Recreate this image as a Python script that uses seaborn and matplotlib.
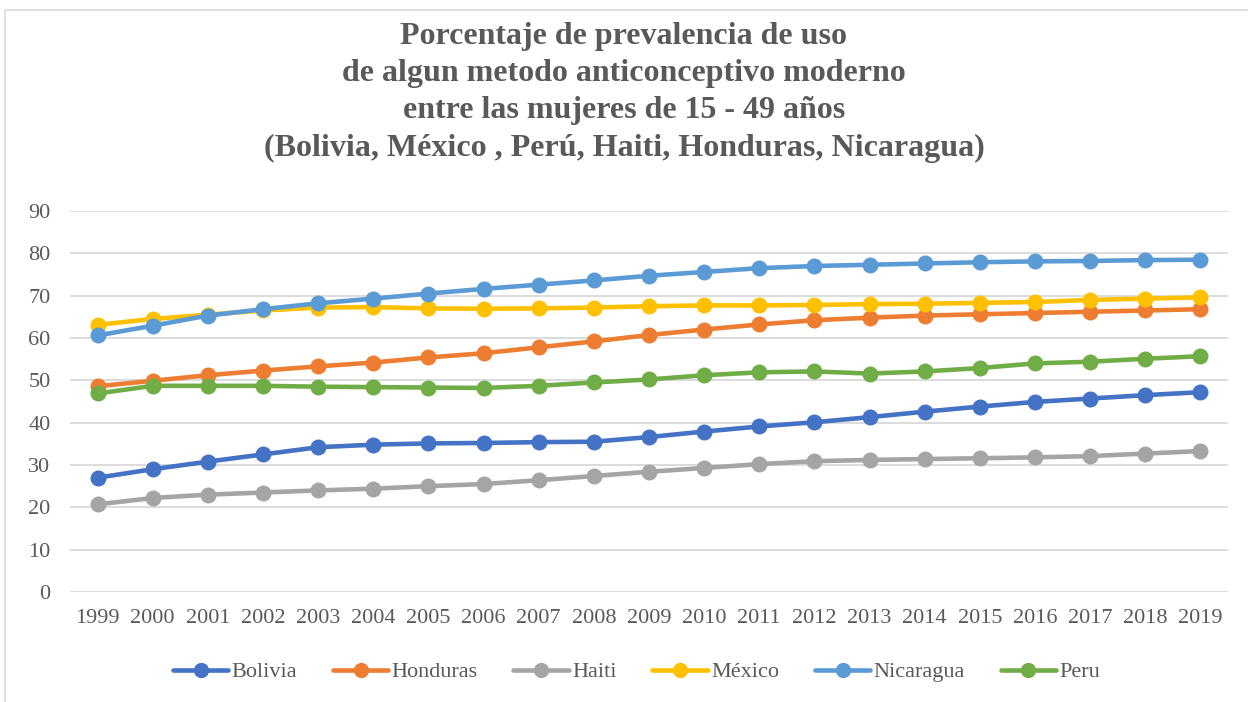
import numpy as np
import pandas as pd
import matplotlib
matplotlib.use("Agg")
import matplotlib.pyplot as plt
from matplotlib.lines import Line2D
from matplotlib.patches import Rectangle
import seaborn as sns

years = list(range(1999, 2020))
bolivia = [27.0, 29.0, 30.8, 32.5, 34.2, 34.8, 35.1, 35.2, 35.4, 35.5, 36.6,
           37.9, 39.1, 40.1, 41.3, 42.6, 43.8, 44.9, 45.7, 46.5, 47.2]
honduras = [48.6, 49.9, 51.2, 52.3, 53.3, 54.2, 55.4, 56.4, 57.8, 59.2, 60.7,
            62.0, 63.2, 64.2, 64.8, 65.3, 65.6, 65.9, 66.2, 66.5, 66.8]
haiti = [20.7, 22.2, 23.0, 23.5, 24.0, 24.4, 25.0, 25.5, 26.4, 27.4, 28.4,
         29.3, 30.2, 30.9, 31.2, 31.4, 31.6, 31.8, 32.1, 32.7, 33.3]
mexico = [63.1, 64.5, 65.5, 66.5, 67.2, 67.3, 67.0, 66.9, 67.0, 67.2, 67.5,
          67.7, 67.7, 67.8, 68.0, 68.1, 68.3, 68.5, 69.0, 69.3, 69.6]
nicaragua = [60.6, 62.9, 65.3, 66.8, 68.2, 69.3, 70.5, 71.6, 72.6, 73.6, 74.7,
             75.6, 76.5, 77.0, 77.3, 77.6, 77.9, 78.1, 78.2, 78.4, 78.5]
peru = [46.9, 48.7, 48.7, 48.7, 48.5, 48.4, 48.3, 48.2, 48.7, 49.5, 50.2,
        51.2, 51.9, 52.1, 51.6, 52.1, 52.9, 54.0, 54.4, 55.1, 55.7]

countries = ["Bolivia", "Honduras", "Haiti", "México", "Nicaragua", "Peru"]
colors = ["#4472C4", "#ED7D31", "#A5A5A5", "#FFC000", "#5B9BD5", "#70AD47"]
series = [bolivia, honduras, haiti, mexico, nicaragua, peru]

title = ("Porcentaje de prevalencia de uso\n"
         "de algun metodo anticonceptivo moderno\n"
         "entre las mujeres de 15 - 49 años\n"
         "(Bolivia, México , Perú, Haiti, Honduras, Nicaragua)")

df = pd.DataFrame({
    "year": np.tile(years, len(countries)),
    "value": np.concatenate(series),
    "country": np.repeat(countries, len(years)),
})

sns.set_theme(style="white")
plt.rcParams["font.family"] = ["Liberation Serif", "DejaVu Serif"]

fig = plt.figure(figsize=(12.48, 7.02), dpi=100)
fig.patch.set_facecolor("white")
ax = fig.add_axes([70 / 1248, 1 - 592 / 702, 1158 / 1248, 381 / 702])

# chart frame
fig.add_artist(Rectangle((5 / 1248, -0.01), 1.1, 1 - 10 / 702 + 0.01,
                         transform=fig.transFigure, fill=False,
                         edgecolor="#D9D9D9", linewidth=1.2))

sns.lineplot(data=df, x="year", y="value", hue="country", hue_order=countries,
             palette=colors, marker="o", markersize=11.5, markeredgewidth=0,
             linewidth=3.3, legend=False, ax=ax, zorder=3)

ax.set_xlim(1998.5, 2019.5)
ax.set_ylim(0, 90)
ax.set_yticks(range(0, 91, 10))
ax.set_xticks(years)
ax.set_xticklabels([str(y) for y in years])
ax.yaxis.grid(True, color="#D9D9D9", linewidth=1.3)
ax.xaxis.grid(False)
for s in ax.spines.values():
    s.set_visible(False)
ax.tick_params(axis="both", length=0, labelsize=16, labelcolor="#595959")
ax.tick_params(axis="y", pad=14)
ax.tick_params(axis="x", pad=12)
ax.set_xlabel("")
ax.set_ylabel("")

fig.text(0.5, 1 - 22 / 702, title, ha="center", va="top", fontsize=23,
         fontweight="bold", color="#595959", linespacing=1.37)

handles = [Line2D([0], [0], color=c, linewidth=3.3, marker="o",
                  markersize=11, markeredgewidth=0) for c in colors]
fig.legend(handles, countries, loc="center", bbox_to_anchor=(0.51, 1 - 672 / 702),
           ncol=6, frameon=False, fontsize=16, handlelength=2.5,
           handletextpad=0.15, columnspacing=1.6, labelcolor="#595959")

fig.savefig("out.png", dpi=100)
